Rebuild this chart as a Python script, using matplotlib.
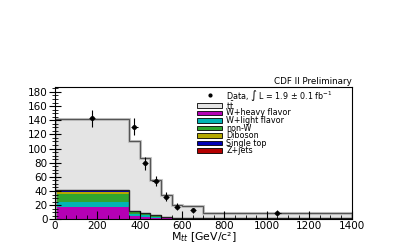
import numpy as np
import matplotlib
matplotlib.use("Agg")
import matplotlib.pyplot as plt
from matplotlib.patches import Rectangle
from matplotlib.ticker import MultipleLocator

plt.rcParams['font.family'] = ['DejaVu Sans']

# bin edges in M_tt (GeV/c^2)
edges = [0, 350, 400, 450, 500, 550, 600, 700, 1400]

# backgrounds, events per bin
w_heavy = [17, 4.5, 3.5, 2.5, 1.5, 0.8, 0.7, 0.4]
w_light = [7, 2.5, 2.0, 1.2, 0.8, 0.4, 0.4, 0.3]
non_w = [12, 3.0, 2.5, 1.5, 1.0, 0.5, 0.5, 0.3]
diboson = [2.5, 0.6, 0.5, 0.3, 0.2, 0.1, 0.1, 0.05]
single_top = [1.5, 0.5, 0.4, 0.2, 0.1, 0.1, 0.05, 0.05]
z_jets = [1.5, 0.5, 0.4, 0.2, 0.1, 0.1, 0.05, 0.05]
# ttbar on top of the backgrounds
ttbar = [100.5, 98.9, 76.7, 50.1, 31.3, 18.0, 16.7, 8.35]

# data points
data_x = [175, 375, 425, 475, 525, 575, 650, 1050]
data_y = [143, 131, 79, 54, 32, 18, 13, 9.5]
data_err = [12, 11.5, 9, 7.5, 6, 4.5, 3.6, 3.1]

fig = plt.figure(figsize=(3.99, 2.45), dpi=100)
ax = fig.add_axes([0.138, 0.105, 0.743, 0.54])

layers = [
    (w_heavy, "#b400b4", "W+heavy flavor"),
    (w_light, "#00b4b4", "W+light flavor"),
    (non_w, "#2fa52f", "non-W"),
    (diboson, "#b4a800", "Diboson"),
    (single_top, "#0000b4", "Single top"),
    (z_jets, "#b40000", "Z+jets"),
]

bottom = np.zeros(len(ttbar))
for vals, col, lab in layers:
    top = bottom + np.array(vals)
    ax.stairs(top, edges, baseline=bottom, fill=True, color=col, lw=0)
    bottom = top
bkg_total = bottom.copy()
total = bkg_total + np.array(ttbar)
ax.stairs(total, edges, baseline=bkg_total, fill=True, color="#e4e4e4", lw=0)
ax.stairs(total, edges, color="#c8c8c8", lw=2.2)
ax.stairs(total, edges, color="#555555", lw=0.9)
ax.stairs(bkg_total, edges, color="#222222", lw=1)

ax.errorbar(data_x, data_y, yerr=data_err, xerr=15, fmt="o", color="black",
            ms=2.5, elinewidth=0.8, capsize=0)

ax.set_xlim(0, 1400)
ax.set_ylim(0, 187)
ax.xaxis.set_major_locator(MultipleLocator(200))
ax.xaxis.set_minor_locator(MultipleLocator(50))
ax.yaxis.set_major_locator(MultipleLocator(20))
ax.yaxis.set_minor_locator(MultipleLocator(5))
ax.tick_params(axis="y", which="major", direction="inout", length=9, labelsize=7.5, pad=1)
ax.tick_params(axis="y", which="minor", direction="inout", length=5)
ax.tick_params(axis="x", which="major", direction="in", length=6, labelsize=7.5, pad=1)
ax.tick_params(axis="x", which="minor", direction="in", length=3)

ax.set_xlabel("M$_{tt}$ [GeV/c²]", fontsize=7.8, va="baseline")
ax.xaxis.set_label_coords(0.5, -0.155)
ax.set_title("CDF II Preliminary", loc="right", fontsize=6.3, pad=2)

# legend drawn by hand so the rows sit as tight as in the original
tr = ax.transAxes
row0 = 0.936
row1 = 0.860
step = 0.0567
ax.plot([0.522], [row0], "o", color="black", ms=2, transform=tr, clip_on=False)
ax.text(0.578, row0, "Data, ∫ L = 1.9 ± 0.1 fb$^{-1}$", transform=tr,
        fontsize=5.8, va="center")
entries = [("#e4e4e4", r"$\mathrm{t\bar{t}}$")] + [(c, l) for v, c, l in layers]
for i, (col, lab) in enumerate(entries):
    y = row1 - step * i
    ax.add_patch(Rectangle((0.479, y - 0.017), 0.084, 0.034, facecolor=col,
                           edgecolor="black", lw=0.6, transform=tr))
    ax.text(0.578, y, lab, transform=tr, fontsize=5.8, va="center")

fig.savefig("out.png", dpi=100)
